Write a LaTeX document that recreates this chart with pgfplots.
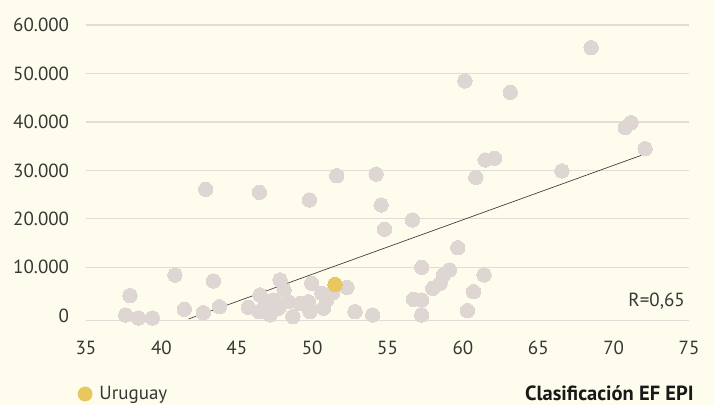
\documentclass[border=0pt]{standalone}
\usepackage{fontspec}
\setmainfont{PT Sans}
\usepackage{pgfplots}
\pgfplotsset{compat=1.18}
\definecolor{bg}{RGB}{254,253,237}
\definecolor{dot}{RGB}{221,214,211}
\definecolor{uy}{RGB}{232,200,92}
\definecolor{gridc}{RGB}{226,220,214}
\definecolor{txt}{RGB}{55,55,55}
\pgfplotstableread{
x y
37.92 4150
37.63 160
38.47 -450
39.40 -450
40.90 8400
41.52 1340
42.78 640
43.45 7180
43.85 1880
42.94 26100
45.77 1750
46.55 4300
46.48 850
46.88 2230
47.21 170
47.43 3260
47.87 7390
48.14 5320
47.76 1550
48.42 2910
48.72 -180
49.20 2580
49.75 2910
49.97 6700
49.86 850
49.86 1550
50.65 4640
50.75 1550
50.97 3260
51.37 4770
52.31 5880
52.85 850
54.02 170
46.50 25480
49.82 23900
51.63 28900
54.24 29220
54.58 22860
54.80 17850
56.65 19770
57.27 10000
56.72 3400
57.27 3260
57.27 165
58.00 5670
58.49 6700
58.71 8420
59.10 9450
59.66 14050
60.30 1060
60.70 4980
61.41 8420
60.86 28580
61.48 32150
62.09 32500
60.13 48450
63.14 46120
68.51 55330
70.77 38820
71.15 39850
72.09 34480
66.57 29880
}\others
\begin{document}
\begin{tikzpicture}
\fill[bg] (-86bp,-84.7bp) rectangle (628bp,320.3bp);
\begin{axis}[at={(0,0)}, anchor=south west, scale only axis,
  width=603bp, height=295.3bp,
  xmin=35, xmax=75, ymin=-930, ymax=60000,
  scaled y ticks=false,
  axis line style={draw=none}, major tick length=0pt,
  xtick={35,40,...,75},
  ytick={-930,10000,20000,30000,40000,50000,60000},
  yticklabels={,10.000,20.000,30.000,40.000,50.000,60.000},
  extra y ticks={0}, extra y tick labels={0}, extra y tick style={grid=none},
  ymajorgrids, grid style={gridc, line width=1.2bp},
  /pgf/number format/assume math mode=true,
  tick label style={font=\fontsize{19bp}{22bp}\selectfont, text=txt},
  xticklabel style={yshift=-17.4bp},
  yticklabel style={xshift=-13.4bp},
  clip=false,
  xlabel={\bfseries Clasificación EF EPI},
  xlabel style={at={(axis description cs:1.008,-0.246)}, anchor=east, inner sep=0pt,
    font=\fontsize{20.5bp}{23bp}\selectfont, text=black!90},
  legend style={at={(axis description cs:-0.0141,-0.2496)}, anchor=west,
    draw=none, fill=none, inner sep=0pt,
    font=\fontsize{19bp}{22bp}\selectfont, text=txt},
  legend image code/.code={\fill[uy] (0bp,0bp) circle (7.2bp);},
]
\addplot[dot, only marks, mark=*, mark size=7.2bp, mark options={draw=dot, fill=dot, line width=0pt}, forget plot] table {\others};
\addplot[draw=black!75, line width=0.7bp, forget plot] coordinates {(41.8,-660) (72.03,33330)};
\addplot[uy, only marks, mark=*, mark size=7.2bp, mark options={draw=uy, fill=uy, line width=0pt}] coordinates {(51.52,6500)};
\addlegendentry{\hspace{5bp}Uruguay}
\node[anchor=east, inner sep=0pt, font=\fontsize{19bp}{22bp}\selectfont, text=txt] at (axis cs:74.73,3120) {R=0,65};
\end{axis}
\end{tikzpicture}
\end{document}
